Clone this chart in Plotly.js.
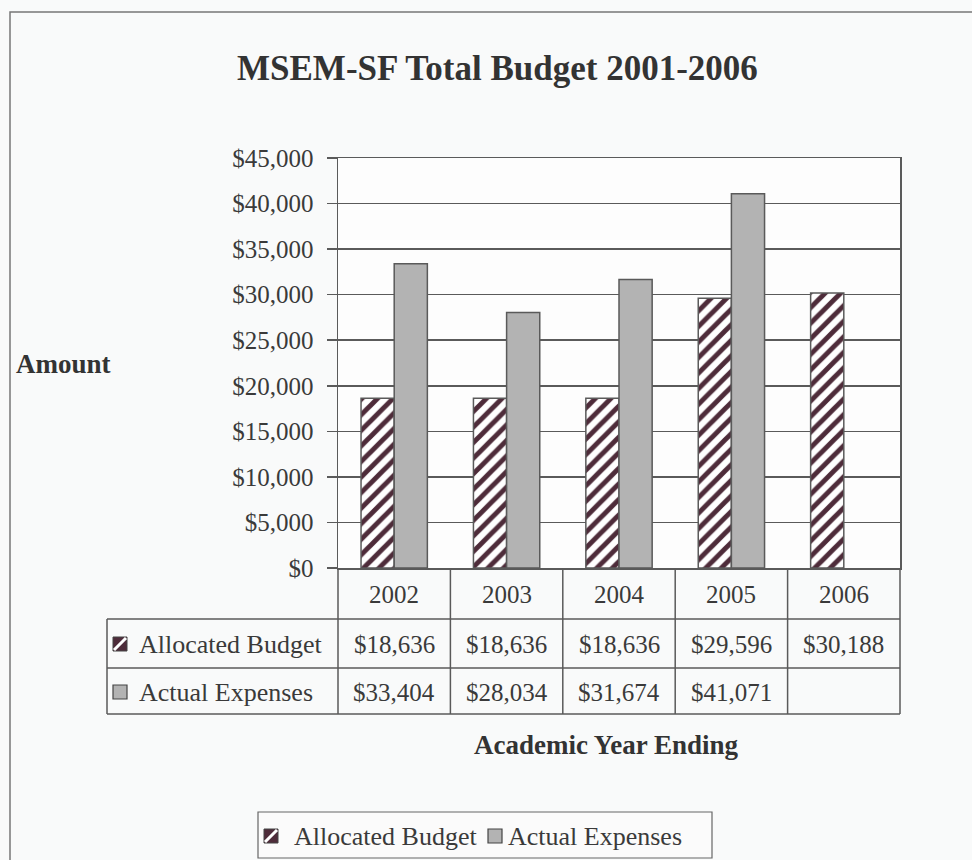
<!DOCTYPE html>
<html>
<head>
<meta charset="utf-8">
<script src="https://cdn.plot.ly/plotly-3.0.1.min.js"></script>
<style>html,body{margin:0;padding:0;background:#f9fafa;}#chart{width:972px;height:860px;}</style>
</head>
<body>
<div id="chart"></div>
<script>
const years = ["2002", "2003", "2004", "2005", "2006"];
const allocatedBudget = [18636, 18636, 18636, 29596, 30188];
const actualExpenses = [33404, 28034, 31674, 41071, null];
const seriesNames = ["Allocated Budget", "Actual Expenses"];
const yTicks = [0, 5000, 10000, 15000, 20000, 25000, 30000, 35000, 40000, 45000];

const FONT = "Liberation Serif";
const TXT = "#3a3a3a";
const LINE = "#5a5a5a";
const STRIPE = "#4e2c3a";
const GRAYBAR = "#b3b3b3";

// pixel helpers (plot area 338..900 x, 158..568 y)
const L = 338, R = 900, T = 158, B = 568;
const px = v => (v - L) / (R - L);
const py = v => (B - v) / (B - T);

const fmt = v => (v === null || v === undefined) ? "" : "$" + v.toLocaleString("en-US");

const traces = [
  {
    type: "bar", name: seriesNames[0], x: years, y: allocatedBudget,
    marker: {color: "#ffffff", line: {color: LINE, width: 1.5},
      pattern: {shape: "/", fgcolor: STRIPE, bgcolor: "#ffffff", size: 11, solidity: 0.45}},
    hoverinfo: "skip"
  },
  {
    type: "bar", name: seriesNames[1], x: years, y: actualExpenses,
    marker: {color: GRAYBAR, line: {color: LINE, width: 1.5}},
    hoverinfo: "skip"
  }
];

const shapes = [];
const annotations = [];
const ln = (x0, y0, x1, y1) => shapes.push({type: "line", xref: "paper", yref: "paper",
  x0: px(x0), y0: py(y0), x1: px(x1), y1: py(y1), line: {color: LINE, width: 1.5}});

// outer frame
shapes.push({type: "rect", xref: "paper", yref: "paper", x0: px(10), x1: px(990), y0: py(12), y1: py(880),
  line: {color: "#777", width: 1.5}, fillcolor: "rgba(0,0,0,0)", layer: "below"});

// table grid
const rows = [568, 619, 668, 714];
ln(L, rows[1], R, rows[1]);
ln(107, rows[1], L, rows[1]);
ln(107, rows[2], R, rows[2]);
ln(107, rows[3], R, rows[3]);
ln(107, rows[1], 107, rows[3]);
for (let i = 0; i <= years.length; i++) {
  const xx = L + (R - L) * i / years.length;
  ln(xx, rows[0], xx, rows[3]);
}

// icons
function hatchIcon(x, y) {
  shapes.push({type: "rect", xref: "paper", yref: "paper", x0: px(x), x1: px(x + 14), y0: py(y), y1: py(y + 14),
    fillcolor: STRIPE, line: {color: "#444", width: 1}});
  shapes.push({type: "line", xref: "paper", yref: "paper", x0: px(x + 1), x1: px(x + 13), y0: py(y + 13), y1: py(y + 1),
    line: {color: "#ffffff", width: 3}});
}
function grayIcon(x, y) {
  shapes.push({type: "rect", xref: "paper", yref: "paper", x0: px(x), x1: px(x + 14), y0: py(y), y1: py(y + 14),
    fillcolor: GRAYBAR, line: {color: "#444", width: 1.2}});
}
hatchIcon(113, 637);
grayIcon(113, 685);

const tf = {family: FONT, size: 25, color: TXT};
const hf = {family: FONT, size: 26, color: TXT};
annotations.push({xref: "paper", yref: "paper", x: px(137), y: py(644), xanchor: "left", yanchor: "middle",
  text: seriesNames[0], showarrow: false, font: hf});
annotations.push({xref: "paper", yref: "paper", x: px(137), y: py(692), xanchor: "left", yanchor: "middle",
  text: seriesNames[1], showarrow: false, font: hf});

years.forEach((yr, i) => {
  annotations.push({xref: "x", yref: "paper", x: i, y: py(594), xanchor: "center", yanchor: "middle", text: yr, showarrow: false, font: tf});
  annotations.push({xref: "x", yref: "paper", x: i, y: py(644), xanchor: "center", yanchor: "middle", text: fmt(allocatedBudget[i]), showarrow: false, font: tf});
  annotations.push({xref: "x", yref: "paper", x: i, y: py(692), xanchor: "center", yanchor: "middle", text: fmt(actualExpenses[i]), showarrow: false, font: tf});
});

// legend (bottom)
shapes.push({type: "rect", xref: "paper", yref: "paper", x0: px(258), x1: px(712), y0: py(812), y1: py(858),
  fillcolor: "#fbfbfb", line: {color: "#666", width: 1.2}});
hatchIcon(264, 829);
grayIcon(488, 829);
annotations.push({xref: "paper", yref: "paper", x: px(292), y: py(836), xanchor: "left", yanchor: "middle",
  text: seriesNames[0], showarrow: false, font: hf});
annotations.push({xref: "paper", yref: "paper", x: px(506), y: py(836), xanchor: "left", yanchor: "middle",
  text: seriesNames[1], showarrow: false, font: hf});

// titles
annotations.push({xref: "paper", yref: "paper", x: px(497), y: py(68), xanchor: "center", yanchor: "middle", showarrow: false,
  text: "<b>MSEM-SF Total Budget 2001-2006</b>", font: {family: FONT, size: 35, color: "#333"}});
annotations.push({xref: "paper", yref: "paper", x: px(14), y: py(364), xanchor: "left", yanchor: "middle", showarrow: false,
  text: "<b>Amount</b>", font: {family: FONT, size: 27, color: "#333"}});
annotations.push({xref: "paper", yref: "paper", x: px(606), y: py(745), xanchor: "center", yanchor: "middle", showarrow: false,
  text: "<b>Academic Year Ending</b>", font: {family: FONT, size: 27, color: "#333"}});

const layout = {
  width: 972, height: 860,
  margin: {l: L, r: 972 - R, t: T, b: 860 - B, pad: 0},
  paper_bgcolor: "#f9fafa", plot_bgcolor: "#fdfdfd",
  barmode: "group", bargap: 0.41, bargroupgap: 0,
  showlegend: false,
  xaxis: {type: "category", range: [-0.5, years.length - 0.5], autorange: false,
    showticklabels: false, ticks: "", showgrid: false, zeroline: false,
    showline: true, mirror: true, linecolor: LINE, linewidth: 1.5, fixedrange: true},
  yaxis: {range: [0, 45000], autorange: false, tickvals: yTicks, ticktext: yTicks.map(v => "$" + v.toLocaleString("en-US")),
    ticks: "outside", ticklen: 10, tickcolor: LINE, tickwidth: 1.5, ticklabelstandoff: 8,
    showgrid: true, gridcolor: LINE, gridwidth: 1.5, zeroline: false,
    showline: true, mirror: true, linecolor: LINE, linewidth: 1.5,
    tickfont: {family: FONT, size: 25, color: TXT}, fixedrange: true},
  shapes: shapes, annotations: annotations
};

Plotly.newPlot("chart", traces, layout, {displayModeBar: false, staticPlot: true});
</script>
</body>
</html>
